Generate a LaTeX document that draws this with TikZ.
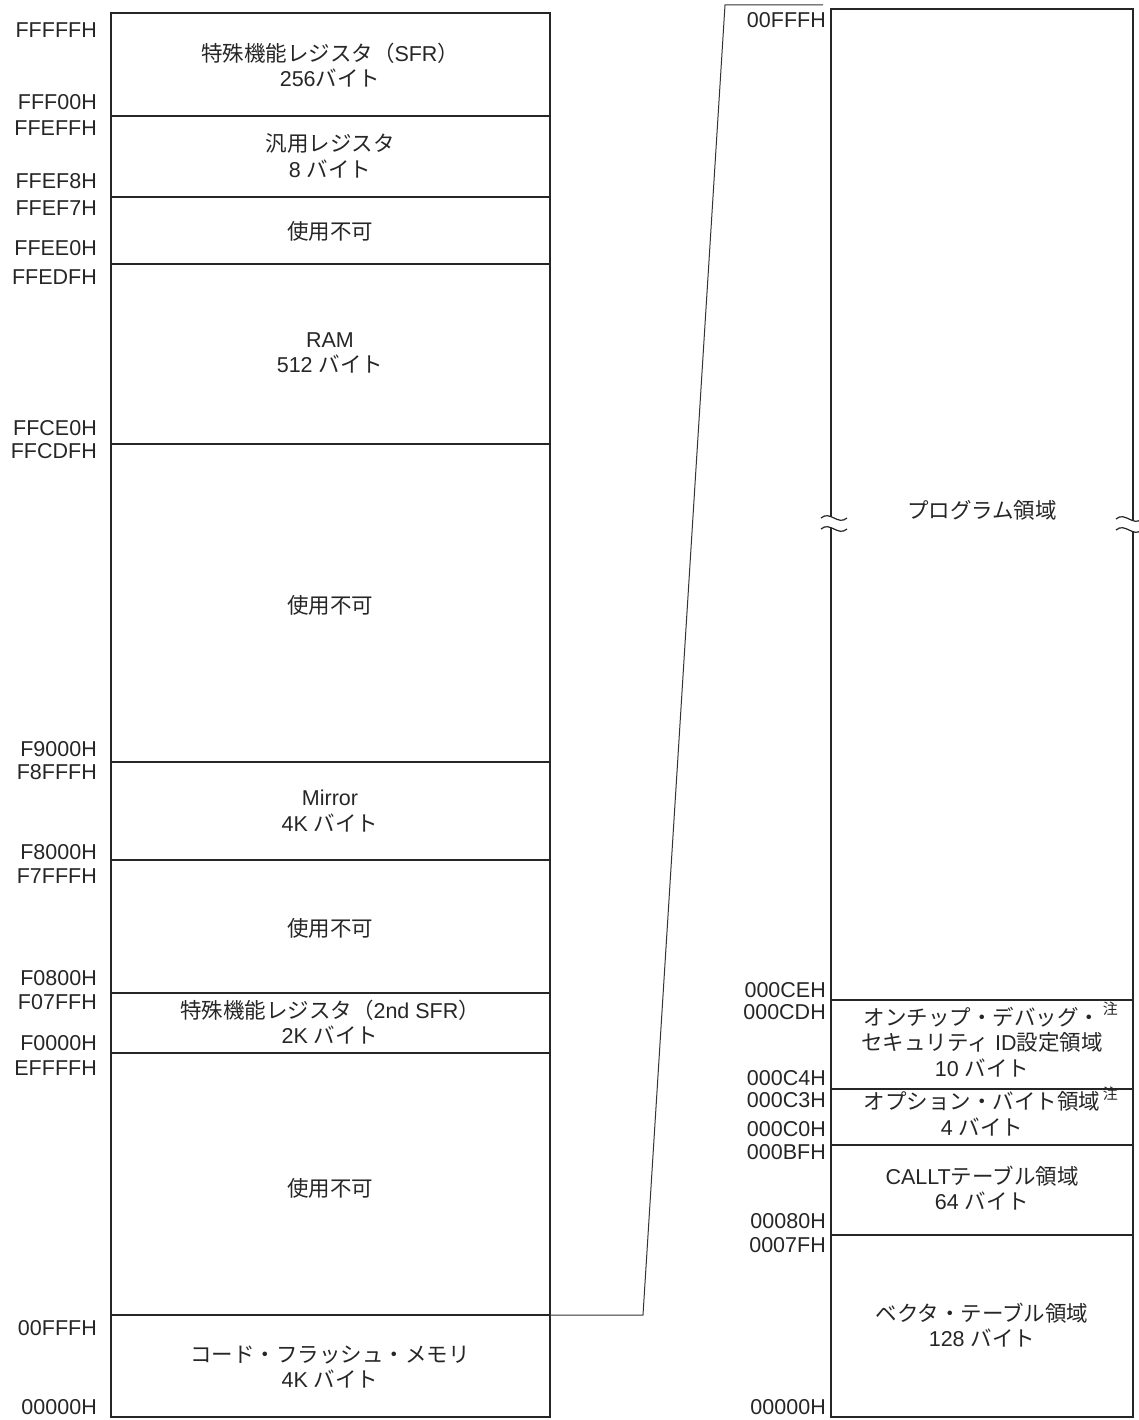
\documentclass[tikz,border=0pt]{standalone}
\usepackage{fontspec}
\setmainfont{Liberation Sans}
\newfontfamily\cjk{Noto Sans CJK JP}
\newcommand{\jp}[1]{{\cjk #1}}
\newcommand{\chu}{\rlap{\smash{\raisebox{0.5em}{\fontsize{15}{15}\selectfont\,\jp{注}}}}}
\begin{document}
\begin{tikzpicture}[x=1pt,y=-1pt,
  every node/.style={inner sep=0pt, font=\fontsize{21.5}{25.5}\selectfont, text=black!85},
  addr/.style={anchor=east},
  lbl/.style={align=center},
  outer/.style={line width=2.2pt, draw=black!85},
  divline/.style={line width=1.2pt, draw=black!85},
  conn/.style={line width=1pt, draw=black!80},
  brk/.style={line width=1.2pt, draw=black!85}]
\useasboundingbox (0,0) rectangle (1139,1420);
% left memory map
\draw[outer] (111,13) rectangle (550,1417);
\foreach \yy in {116,197,264,444,762,860,993,1053,1315}
  \draw[divline] (111,\yy) -- (550,\yy);
% right memory map
\draw[outer] (831,9) rectangle (1133,1417);
\foreach \yy in {1000,1089,1145,1235}
  \draw[divline] (831,\yy) -- (1133,\yy);
% break marks
\fill[white] (821,518) .. controls (830,510) and (838,526) .. (847,518) -- (847,529) .. controls (838,537) and (830,521) .. (821,529) -- cycle;
\draw[brk] (821,518) .. controls (830,510) and (838,526) .. (847,518);
\draw[brk] (821,529) .. controls (830,521) and (838,537) .. (847,529);
\fill[white] (1116,519) .. controls (1125,511) and (1133,527) .. (1142,519) -- (1142,530) .. controls (1133,538) and (1125,522) .. (1116,530) -- cycle;
\draw[brk] (1116,519) .. controls (1125,511) and (1133,527) .. (1142,519);
\draw[brk] (1116,530) .. controls (1125,522) and (1133,538) .. (1142,530);
% connector
\coordinate (c1) at (550,1315);
\coordinate (c2) at (643,1315);
\coordinate (c3) at (725,5);
\coordinate (c4) at (823,5);
\draw[conn] (c1) -- (c2) -- (c3) -- (c4);
% left addresses
\node[addr] (a1) at (97,30) {FFFFFH};
\node[addr] (a2) at (97,102) {FFF00H};
\node[addr] (a3) at (97,128) {FFEFFH};
\node[addr] (a4) at (97,181) {FFEF8H};
\node[addr] (a5) at (97,208) {FFEF7H};
\node[addr] (a6) at (97,248) {FFEE0H};
\node[addr] (a7) at (97,277) {FFEDFH};
\node[addr] (a8) at (97,428) {FFCE0H};
\node[addr] (a9) at (97,451) {FFCDFH};
\node[addr] (a10) at (97,749) {F9000H};
\node[addr] (a11) at (97,772) {F8FFFH};
\node[addr] (a12) at (97,852) {F8000H};
\node[addr] (a13) at (97,876) {F7FFFH};
\node[addr] (a14) at (97,978) {F0800H};
\node[addr] (a15) at (97,1002) {F07FFH};
\node[addr] (a16) at (97,1043) {F0000H};
\node[addr] (a17) at (97,1068) {EFFFFH};
\node[addr] (a18) at (97,1328) {00FFFH};
\node[addr] (a19) at (97,1407) {00000H};
% right addresses
\node[addr] (b1) at (826,20) {00FFFH};
\node[addr] (b2) at (826,990) {000CEH};
\node[addr] (b3) at (826,1012) {000CDH};
\node[addr] (b4) at (826,1078) {000C4H};
\node[addr] (b5) at (826,1100) {000C3H};
\node[addr] (b6) at (826,1129) {000C0H};
\node[addr] (b7) at (826,1152) {000BFH};
\node[addr] (b8) at (826,1221) {00080H};
\node[addr] (b9) at (826,1245) {0007FH};
\node[addr] (b10) at (826,1407) {00000H};
% left region texts
\node[lbl] (r1) at (330,65) {\jp{特殊機能レジスタ（}SFR\jp{）}\\256\jp{バイト}};
\node[lbl] (r2) at (330,156) {\jp{汎用レジスタ}\\8 \jp{バイト}};
\node[lbl] (r3) at (330,231) {\jp{使用不可}};
\node[lbl] (r4) at (330,353) {RAM\\512 \jp{バイト}};
\node[lbl] (r5) at (330,605) {\jp{使用不可}};
\node[lbl] (r6) at (330,811) {Mirror\\4K \jp{バイト}};
\node[lbl] (r7) at (330,928) {\jp{使用不可}};
\node[lbl] (r8) at (330,1022) {\jp{特殊機能レジスタ（}2nd SFR\jp{）}\\2K \jp{バイト}};
\node[lbl] (r9) at (330,1188) {\jp{使用不可}};
\node[lbl] (r10) at (330,1367) {\jp{コード・フラッシュ・メモリ}\\4K \jp{バイト}};
% right region texts
\node[lbl] (s1) at (982,510) {\jp{プログラム領域}};
\node[lbl] (s2) at (982,1042) {\jp{オンチップ・デバッグ・}\chu\\\jp{セキュリティ} ID\jp{設定領域}\\10 \jp{バイト}};
\node[lbl] (s3) at (982,1114) {\jp{オプション・バイト領域}\chu\\4 \jp{バイト}};
\node[lbl] (s4) at (982,1188) {CALLT\jp{テーブル領域}\\64 \jp{バイト}};
\node[lbl] (s5) at (982,1325) {\jp{ベクタ・テーブル領域}\\128 \jp{バイト}};
\end{tikzpicture}
\end{document}
